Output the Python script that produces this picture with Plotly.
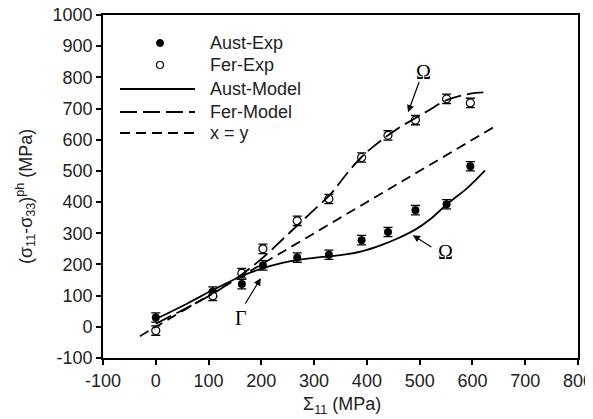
import plotly.graph_objects as go

# Experimental data
exp_x = [0, 108, 163, 203, 268, 328, 390, 440, 492, 551, 596]
aust_exp = [30, 113, 137, 197, 222, 231, 278, 304, 374, 393, 515]
fer_exp = [-12, 99, 172, 250, 340, 410, 543, 614, 663, 731, 718]
err = 15

# Model curves
aust_model_x = [0, 60, 108, 163, 203, 240, 268, 300, 328, 360, 390, 427, 460, 490, 520, 553, 590, 624]
aust_model_y = [25, 75, 118, 163, 188, 205, 214, 221, 226, 232, 242, 262, 285, 310, 345, 395, 445, 502]
fer_model_x = [0, 60, 108, 163, 203, 240, 268, 300, 332, 360, 389, 415, 440, 465, 490, 520, 550, 594, 626]
fer_model_y = [10, 62, 106, 168, 222, 280, 325, 375, 427, 487, 543, 582, 614, 643, 667, 697, 726, 747, 752]
xy_x = [-30, 640]
xy_y = [-30, 640]

x_ticks = [-100, 0, 100, 200, 300, 400, 500, 600, 700, 800]
x_tick_text = ["-100", "0", "100", "200", "300", "400", "500", "600", "700", "800"]
y_ticks = [-100, 0, 100, 200, 300, 400, 500, 600, 700, 800, 900, 1000]
y_tick_text = ["-100", "0", "100", "200", "300", "400", "500", "600", "700", "800", "900", "1000"]

legend_labels = ["Aust-Exp", "Fer-Exp", "Aust-Model", "Fer-Model", "x = y"]

FONT = "Liberation Sans, Arial, sans-serif"
SERIF = "Liberation Serif, Times New Roman, serif"
TEXT_C = "#222"
LINE_W = 1.8
FER_DASH = "17px,6px"
XY_DASH = "10px,6px"

# Screen layout (the page body adds an 8px offset to the figure)
W, H = 593, 419
OFF = 8
PL, PR, PT, PB = 103, 578, 15, 358  # plot area on screen
ML, MT = PL - OFF, PT - OFF
MR, MB = W + OFF - PR, H + OFF - PB
PW, PH = PR - PL, PB - PT

fig = go.Figure()

fig.add_trace(go.Scatter(
    x=exp_x, y=aust_exp, mode="markers", name=legend_labels[0],
    marker=dict(symbol="circle", size=8, color="black"),
    error_y=dict(type="constant", value=err, color="black", thickness=1.3, width=4.5),
))
fig.add_trace(go.Scatter(
    x=exp_x, y=fer_exp, mode="markers", name=legend_labels[1],
    marker=dict(symbol="circle", size=8, color="white", line=dict(color="black", width=1.2)),
    error_y=dict(type="constant", value=err, color="black", thickness=1.3, width=4.5),
))
fig.add_trace(go.Scatter(
    x=aust_model_x, y=aust_model_y, mode="lines", name=legend_labels[2],
    line=dict(color="black", width=LINE_W, shape="spline", smoothing=1.0),
))
fig.add_trace(go.Scatter(
    x=fer_model_x, y=fer_model_y, mode="lines", name=legend_labels[3],
    line=dict(color="black", width=LINE_W, shape="spline", smoothing=1.0, dash=FER_DASH),
))
fig.add_trace(go.Scatter(
    x=xy_x, y=xy_y, mode="lines", name=legend_labels[4],
    line=dict(color="black", width=LINE_W, dash=XY_DASH),
))

# Arrow annotations
arrow_common = dict(showarrow=True, arrowhead=2, arrowsize=1.2, arrowwidth=1.2,
                    arrowcolor="black", axref="x", ayref="y", xref="x", yref="y")
fig.add_annotation(x=478, y=688, ax=500, ay=790, text="", **arrow_common)
fig.add_annotation(x=508, y=816, text="Ω", showarrow=False,
                   font=dict(family=SERIF, size=20, color="black"))
fig.add_annotation(x=487, y=294, ax=525, ay=253, text="", **arrow_common)
fig.add_annotation(x=548, y=241, text="Ω", showarrow=False,
                   font=dict(family=SERIF, size=20, color="black"))
fig.add_annotation(x=199, y=156, ax=168, ay=70, text="", **arrow_common)
fig.add_annotation(x=161, y=28, text="Γ", showarrow=False,
                   font=dict(family=SERIF, size=20, color="black"))


def px_x(p):
    return (p - PL) / PW


def px_y(p):
    return 1 - (p - PT) / PH


# Hand-drawn legend (paper coordinates from screen pixels)
row_py = [43, 65, 89, 112, 133]
line_x0, line_x1, mark_x, text_x = 120, 195, 160, 208
for lab, py in zip(legend_labels, row_py):
    fig.add_annotation(x=px_x(text_x), y=px_y(py), xref="paper", yref="paper",
                       text=lab, showarrow=False, xanchor="left", yanchor="middle",
                       font=dict(family=FONT, size=18, color=TEXT_C))
fig.add_shape(type="circle", xref="paper", yref="paper", xsizemode="pixel", ysizemode="pixel",
              xanchor=px_x(mark_x), yanchor=px_y(row_py[0]), x0=-3.5, x1=3.5, y0=-3.5, y1=3.5,
              fillcolor="black", line=dict(color="black", width=1))
fig.add_shape(type="circle", xref="paper", yref="paper", xsizemode="pixel", ysizemode="pixel",
              xanchor=px_x(mark_x), yanchor=px_y(row_py[1]), x0=-3.5, x1=3.5, y0=-3.5, y1=3.5,
              fillcolor="white", line=dict(color="black", width=1.2))
for py, dash in zip(row_py[2:], ["solid", FER_DASH, XY_DASH]):
    fig.add_shape(type="line", xref="paper", yref="paper",
                  x0=px_x(line_x0), x1=px_x(line_x1), y0=px_y(py), y1=px_y(py),
                  line=dict(color="black", width=LINE_W, dash=dash))

# Axis titles
fig.add_annotation(x=px_x(342), y=px_y(405), xref="paper", yref="paper",
                   text="Σ<sub>11</sub> (MPa)", showarrow=False, xanchor="center", yanchor="middle",
                   font=dict(family=FONT, size=18, color=TEXT_C))
fig.add_annotation(x=px_x(25), y=px_y(197), xref="paper", yref="paper",
                   text="(σ<sub>11</sub>-σ<sub>33</sub>)<sup>ph</sup> (MPa)", showarrow=False,
                   textangle=-90, xanchor="center", yanchor="middle",
                   font=dict(family=FONT, size=18, color=TEXT_C))

fig.update_layout(
    width=W, height=H,
    margin=dict(l=ML, r=MR, t=MT, b=MB, autoexpand=False),
    paper_bgcolor="white", plot_bgcolor="white",
    font=dict(family=FONT, size=18, color=TEXT_C),
    showlegend=False,
)
fig.update_xaxes(
    range=[-100, 800], tickvals=x_ticks, ticktext=x_tick_text, ticks="outside", ticklen=5, tickwidth=1.5,
    tickcolor="black", showline=True, linecolor="black", linewidth=1.8, mirror=True,
    showgrid=False, zeroline=False, automargin=False, ticklabeloverflow="allow",
)
fig.update_yaxes(
    range=[-100, 1000], tickvals=y_ticks, ticktext=y_tick_text, ticks="outside", ticklen=5, tickwidth=1.5,
    tickcolor="black", showline=True, linecolor="black", linewidth=1.8, mirror=True,
    showgrid=False, zeroline=False, automargin=False, ticklabeloverflow="allow",
)

fig.write_html("out.html")
